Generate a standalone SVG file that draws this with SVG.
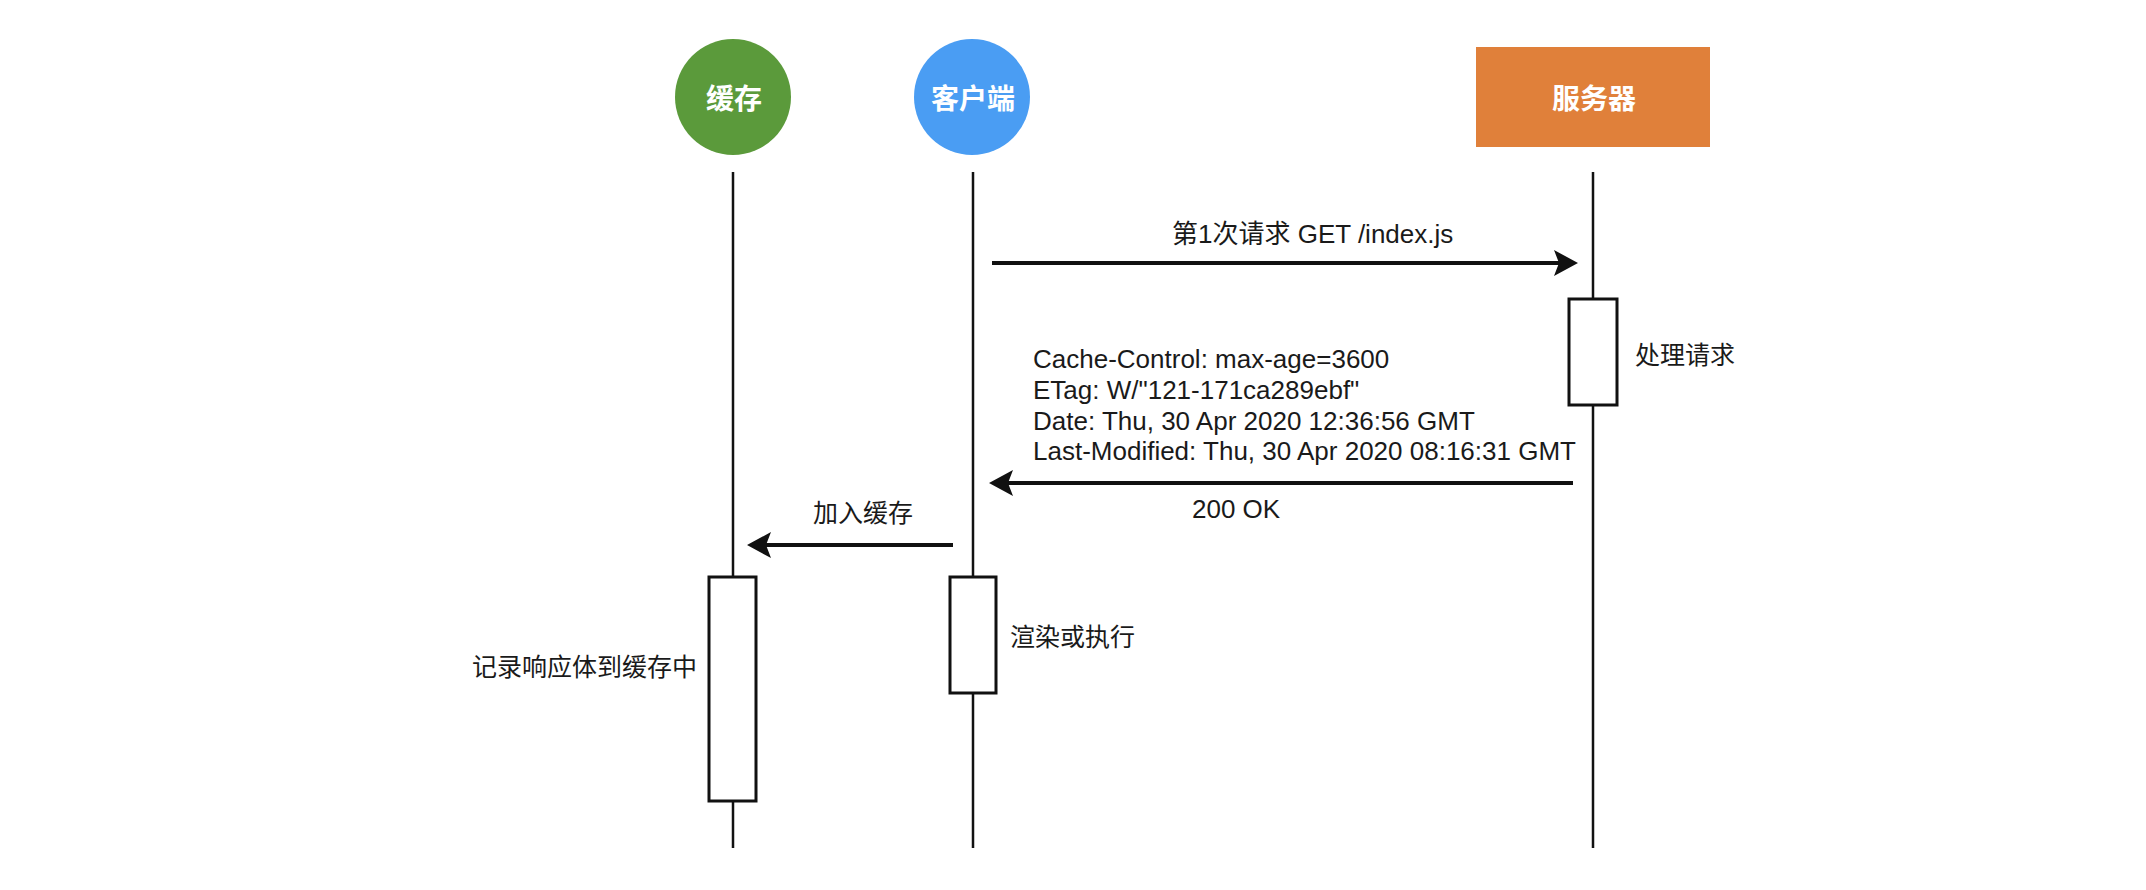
<svg xmlns="http://www.w3.org/2000/svg" width="2146" height="890" viewBox="0 0 2146 890">
  <style>
    .life { stroke: #111; stroke-width: 2.5; fill: none; }
    .act { fill: #fff; stroke: #111; stroke-width: 3; }
    .msg { stroke: #111; stroke-width: 4; fill: none; marker-end: url(#ah); }
    .lbl { font-family: "Liberation Sans", "Noto Sans CJK SC", sans-serif; font-size: 26px; fill: #1a1a1a; }
    .cjk { font-family: "Liberation Sans", "Noto Sans CJK SC", sans-serif; font-size: 25px; fill: #1a1a1a; }
    .head { font-family: "Liberation Sans", "Noto Sans CJK SC", sans-serif; font-size: 28px; font-weight: bold; fill: #fff; text-anchor: middle; dominant-baseline: central; }
  </style>
  <defs>
    <marker id="ah" viewBox="0 0 24 28" refX="16" refY="14" markerWidth="24" markerHeight="28" markerUnits="userSpaceOnUse" orient="auto">
      <path d="M0,1 L24,14 L0,27 L5,14 Z" fill="#111"/>
    </marker>
  </defs>
  <rect width="2146" height="890" fill="#fff"/>
  <g id="connectors">
    <line class="life" x1="733" y1="172" x2="733" y2="848"/>
    <line class="life" x1="973" y1="172" x2="973" y2="848"/>
    <line class="life" x1="1593" y1="172" x2="1593" y2="848"/>
    <line class="msg" x1="992" y1="263" x2="1570" y2="263"/>
    <line class="msg" x1="1573" y1="483" x2="997" y2="483"/>
    <line class="msg" x1="953" y1="545" x2="755" y2="545"/>
  </g>
  <g id="node-cache">
    <circle cx="733" cy="97" r="58" fill="#5b9a3b"/>
    <text class="head" x="734" y="99">缓存</text>
  </g>
  <g id="node-client">
    <circle cx="972" cy="97" r="58" fill="#4a9df3"/>
    <text class="head" x="973" y="99">客户端</text>
  </g>
  <g id="node-server">
    <rect x="1476" y="47" width="234" height="100" fill="#e0803a"/>
    <text class="head" x="1594" y="99">服务器</text>
  </g>
  <g id="act-server">
    <rect class="act" x="1569" y="299" width="48" height="106"/>
    <text class="cjk" x="1635" y="364">处理请求</text>
  </g>
  <g id="act-cache">
    <rect class="act" x="709" y="577" width="47" height="224"/>
    <text class="cjk" x="697" y="676" text-anchor="end">记录响应体到缓存中</text>
  </g>
  <g id="act-client">
    <rect class="act" x="950" y="577" width="46" height="116"/>
    <text class="cjk" x="1010" y="646">渲染或执行</text>
  </g>
  <g id="labels">
    <text class="lbl" x="1172" y="243">第1次请求 GET /index.js</text>
    <text class="lbl" x="1033" y="368">Cache-Control: max-age=3600</text>
    <text class="lbl" x="1033" y="399">ETag: W/"121-171ca289ebf"</text>
    <text class="lbl" x="1033" y="430">Date: Thu, 30 Apr 2020 12:36:56 GMT</text>
    <text class="lbl" x="1033" y="460">Last-Modified: Thu, 30 Apr 2020 08:16:31 GMT</text>
    <text class="lbl" x="1192" y="518">200 OK</text>
    <text class="cjk" x="813" y="522">加入缓存</text>
  </g>
</svg>
